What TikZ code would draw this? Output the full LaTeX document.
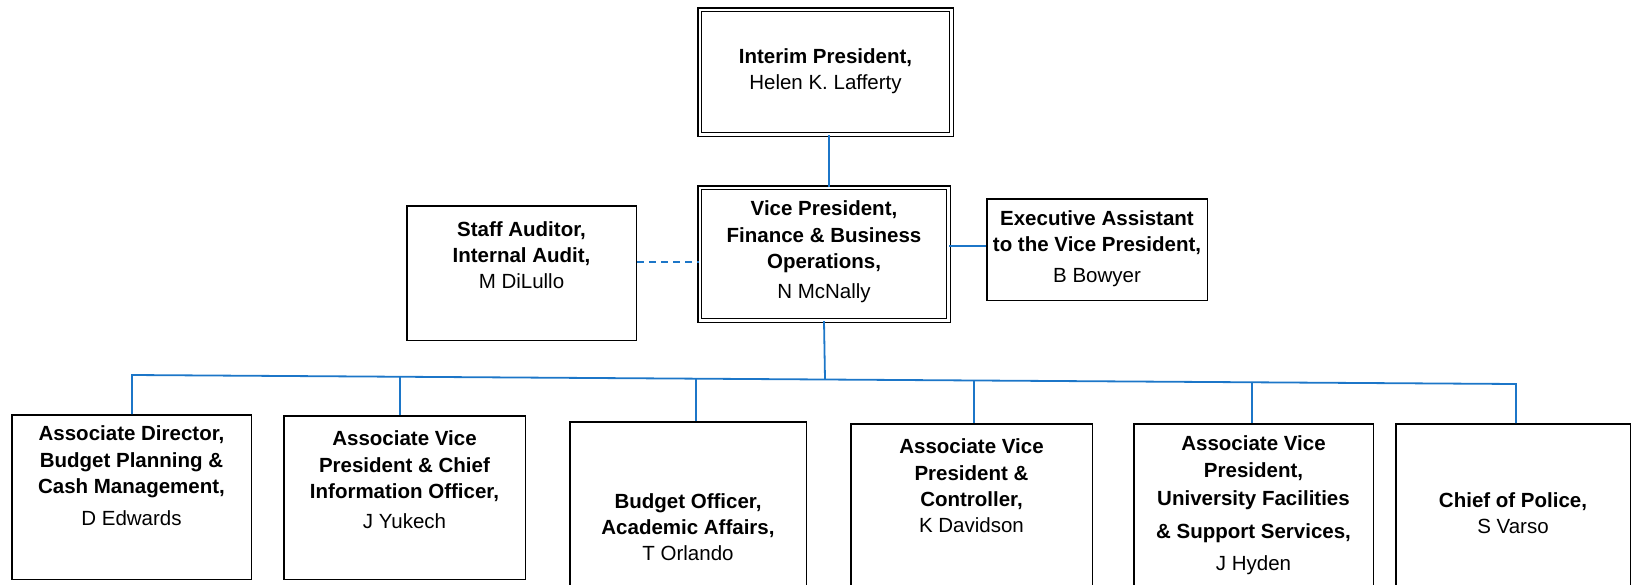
\documentclass[tikz,border=0pt]{standalone}
\usepackage{fontspec}
\setmainfont{Liberation Sans}
\definecolor{conn}{RGB}{28,118,200}
\begin{document}
\begin{tikzpicture}[x=1pt,y=-1pt,
  box/.style={draw=black, line width=1.5pt, inner sep=0pt},
  dbox/.style={draw=black, double=white, line width=1.5pt, double distance=2.2pt, inner sep=0pt},
  txt/.style={align=center, inner sep=0pt, font=\fontsize{20.5}{26.3}\selectfont},
  link/.style={draw=conn, line width=1.8pt},
  dlink/.style={link, dash pattern=on 7pt off 5pt}]
\useasboundingbox (0,0) rectangle (1633,584);
% boxes
\node[dbox, minimum width=251.8pt, minimum height=124.8pt] (pres) at (825.5,72) {};
\node[dbox, minimum width=248.8pt, minimum height=132.8pt] (vp) at (824,254) {};
\node[box, minimum width=229.5pt, minimum height=134.5pt] (staff) at (521.5,273) {};
\node[box, minimum width=220.5pt, minimum height=101.5pt] (exec) at (1097,249.5) {};
\node[box, minimum width=239.5pt, minimum height=164.5pt] (b1) at (131.5,497) {};
\node[box, minimum width=241.5pt, minimum height=163.5pt] (b2) at (404.5,497.5) {};
\node[box, minimum width=236.5pt, minimum height=177.5pt] (b3) at (688,510.5) {};
\node[box, minimum width=241.5pt, minimum height=175.5pt] (b4) at (971.5,511.5) {};
\node[box, minimum width=239.5pt, minimum height=175.5pt] (b5) at (1253.5,511.5) {};
\node[box, minimum width=234.5pt, minimum height=175.5pt] (b6) at (1513,511.5) {};
% texts
\node[txt] (tpres) at (825.5,71.5) {\textbf{Interim President,}\\Helen K. Lafferty};
\node[txt] (tvp) at (824,252) {\textbf{Vice President,}\\\textbf{Finance \& Business}\\\textbf{Operations,}\\[4pt]N McNally};
\node[txt] (tstaff) at (521.5,255) {\textbf{Staff Auditor,}\\\textbf{Internal Audit,}\\M DiLullo};
\node[txt] (texec) at (1097,248.5) {\textbf{Executive Assistant}\\\textbf{to the Vice President,}\\[4pt]B Bowyer};
\node[txt] (tb1) at (131.5,476) {\textbf{Associate Director,}\\\textbf{Budget Planning \&}\\\textbf{Cash Management,}\\[6pt]D Edwards};
\node[txt] (tb2) at (404.5,480) {\textbf{Associate Vice}\\\textbf{President \& Chief}\\\textbf{Information Officer,}\\[4pt]J Yukech};
\node[txt] (tb3) at (688,527) {\textbf{Budget Officer,}\\\textbf{Academic Affairs,}\\T Orlando};
\node[txt] (tb4) at (971.5,486) {\textbf{Associate Vice}\\\textbf{President \&}\\\textbf{Controller,}\\K Davidson};
\node[txt] (tb5) at (1253.5,505.5) {\textbf{Associate Vice}\\\textbf{President,}\\[2pt]\textbf{University Facilities}\\[7pt]\textbf{\& Support Services,}\\[6pt]J Hyden};
\node[txt] (tb6) at (1513,513) {\textbf{Chief of Police,}\\S Varso};
% connectors
\coordinate (busL) at (132,375);
\coordinate (busR) at (1516,384);
\coordinate (bv) at (825,379.5);
\coordinate (d2) at (400,376.7);
\coordinate (d3) at (696,378.7);
\coordinate (d4) at (974,380.5);
\coordinate (d5) at (1252,382.3);
\coordinate (dashy) at (0,262);
\coordinate (exy) at (0,246);
\draw[link] ([xshift=3.5pt]pres.south) -- ([xshift=3.5pt]pres.south |- vp.north);
\draw[link] (vp.south) -- (bv);
\draw[link] (busL |- b1.north) -- (busL) -- (busR) -- (busR |- b6.north);
\draw[link] (d2) -- (d2 |- b2.north);
\draw[link] (d3) -- (d3 |- b3.north);
\draw[link] (d4) -- (d4 |- b4.north);
\draw[link] (d5) -- (d5 |- b5.north);
\draw[dlink] (staff.east |- dashy) -- (vp.west |- dashy);
\draw[link] (vp.east |- exy) -- (exec.west |- exy);
\end{tikzpicture}
\end{document}
